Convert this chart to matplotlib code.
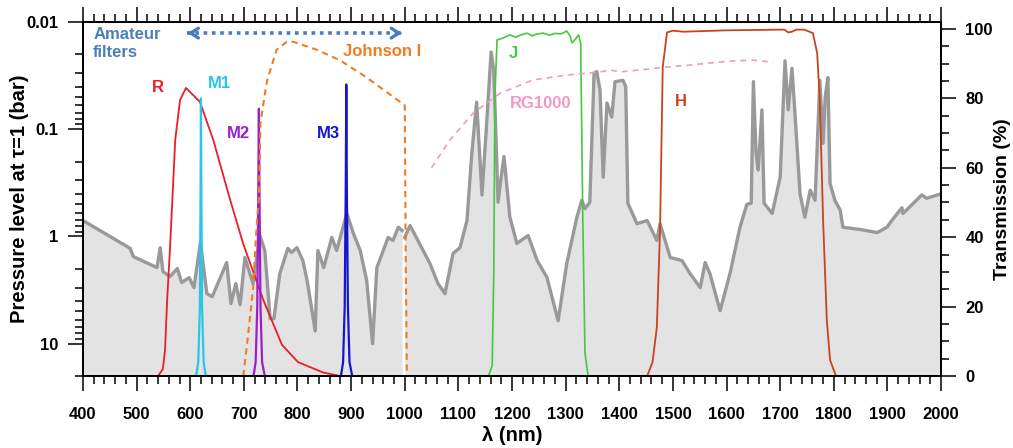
import numpy as np
import matplotlib
matplotlib.use("Agg")
import matplotlib.pyplot as plt
from matplotlib.ticker import FixedLocator, MultipleLocator, LogLocator, NullFormatter

plt.rcParams['font.family'] = ['Liberation Sans', 'DejaVu Sans']
plt.rcParams['font.weight'] = 'bold'
plt.rcParams['axes.labelweight'] = 'bold'

# pressure level (bar) where the atmosphere reaches tau = 1, two pieces with a gap near 1000 nm
lam_a = [400, 488, 494, 538, 544, 549, 562, 576, 584, 598, 607, 619, 631, 641, 668, 676,
         685, 693, 702, 717, 730, 739, 749, 756, 767, 782, 789, 799, 810, 818, 833, 838,
         849, 864, 873, 892, 904, 917, 929, 940, 948, 960, 969, 978, 988, 995]
p_a = [0.71, 1.29, 1.54, 1.95, 1.27, 2.12, 2.37, 1.99, 2.69, 2.42, 3.0, 1.13, 3.41, 3.64,
       1.75, 4.23, 2.75, 4.32, 1.57, 2.75, 0.98, 1.35, 5.84, 5.84, 2.22, 1.29, 1.41, 1.27,
       1.68, 2.58, 7.6, 1.35, 1.95, 1.02, 1.35, 0.61, 0.93, 1.35, 2.58, 10.0, 1.95, 1.35,
       1.02, 1.09, 0.82, 0.88]
lam_b = [1000, 1010, 1047, 1062, 1075, 1090, 1103, 1116, 1125, 1134, 1144, 1152, 1161, 1166,
         1174, 1179, 1185, 1196, 1209, 1230, 1247, 1265, 1286, 1302, 1321, 1330, 1336, 1345,
         1353, 1358, 1364, 1370, 1377, 1386, 1392, 1407, 1412, 1416, 1433, 1452, 1470,
         1476, 1495, 1517, 1532, 1551, 1560, 1569, 1588, 1607, 1625, 1638, 1646, 1650, 1655,
         1659, 1666, 1670, 1685, 1700, 1709, 1715, 1722, 1728, 1737, 1746, 1756, 1765, 1774,
         1780, 1784, 1789, 1793, 1802, 1812, 1817, 1849, 1881, 1899, 1911, 1927, 1929, 1964,
         1973, 2000]
p_b = [1.02, 0.79, 1.79, 2.75, 3.41, 1.44, 1.27, 0.71, 0.168, 0.056, 0.41, 0.1, 0.019, 0.028,
       0.48, 0.3, 0.18, 0.66, 1.16, 0.98, 1.68, 2.4, 6.1, 1.79, 0.66, 0.46, 0.55, 0.48,
       0.030, 0.029, 0.043, 0.28, 0.057, 0.077, 0.036, 0.035, 0.04, 0.49, 0.76, 0.71, 1.09,
       0.76, 1.57, 1.68, 2.22, 3.0, 1.75, 2.22, 4.92, 2.15, 0.82, 0.50, 0.49, 0.036, 0.168,
       0.24, 0.066, 0.49, 0.61, 0.28, 0.023, 0.066, 0.027, 0.077, 0.40, 0.66, 0.37, 0.46, 0.035,
       0.135, 0.050, 0.033, 0.32, 0.46, 0.57, 0.82, 0.86, 0.92, 0.82, 0.68, 0.54, 0.61, 0.41,
       0.44, 0.40]

# filter transmission curves (%)
r_lam = [540, 549, 553, 557, 562, 568, 572, 581, 592, 605, 618, 643, 674, 699, 736, 771, 801, 848, 880]
r_t = [0, 2, 7.5, 22, 36, 55, 68, 79.5, 83, 81, 79, 68, 51, 38, 22, 9, 4, 1, 0]
m1_lam = [611, 615, 618, 619.5, 620, 620.5, 622, 625, 629]
m1_t = [0, 4, 20, 60, 80, 60, 20, 4, 0]
m2_lam = [718, 722, 725, 727, 728, 729, 731, 734, 739]
m2_t = [0, 4, 20, 55, 77, 55, 20, 4, 0]
m3_lam = [881, 885, 888, 890, 891, 892, 894, 897, 902]
m3_t = [0, 4, 20, 55, 84, 55, 20, 4, 0]
ji_lam = [699, 708, 717, 721, 725, 728, 731, 743, 761, 780, 792, 836, 879, 929, 1000, 1002, 1004]
ji_t = [0, 12, 25, 36, 46, 51, 73, 85, 94, 96.3, 96.3, 94, 91, 86, 78, 30, 0]
j_lam = [1156, 1163, 1166, 1168, 1172, 1185, 1196, 1207, 1215, 1228, 1238, 1245, 1258, 1270,
         1280, 1292, 1302, 1308, 1312, 1318, 1324, 1328, 1332, 1336, 1342]
j_t = [0, 3, 30, 80, 96.8, 97.5, 98.3, 97.6, 98.2, 98.8, 98.0, 98.5, 98.8, 98.2, 98.7, 98.6,
       99.4, 98, 96, 97, 98.3, 96, 45, 6.6, 0]
h_lam = [1452, 1462, 1470, 1476, 1481, 1489, 1500, 1520, 1600, 1700, 1708, 1715, 1722, 1730,
         1745, 1761, 1769, 1774, 1780, 1787, 1793, 1804]
h_t = [0, 4, 14, 42, 89, 99, 99.5, 99.2, 99.6, 99.8, 99.8, 99, 99.2, 99.8, 99.8, 98.8, 93, 79,
       45, 16, 4.6, 0]
rg_lam = [1050, 1084, 1128, 1178, 1239, 1302, 1364, 1383, 1401, 1489, 1612, 1650, 1687]
rg_t = [60, 68, 75.8, 81.5, 85.3, 86.7, 87.6, 88.2, 87.6, 89, 90.8, 91, 90.4]

fig = plt.figure(figsize=(10.13, 4.48), dpi=100)
ax = fig.add_axes([0.0819, 0.1607, 0.8471, 0.7902])

p_bottom = 20
for lam, p in ((lam_a, p_a), (lam_b, p_b)):
    ax.fill_between(lam, p, p_bottom, color='#e3e3e3', lw=0, zorder=1)
    ax.plot(lam, p, color='#999999', lw=2.4, zorder=2, solid_joinstyle='round')

ax.set_yscale('log')
ax.set_ylim(p_bottom, 0.01)
ax.set_xlim(400, 2000)
ax.yaxis.set_major_locator(FixedLocator([0.01, 0.1, 1, 10]))
ax.set_yticklabels(['0.01', '0.1', '1', '10'])
ax.yaxis.set_minor_locator(LogLocator(base=10, subs=np.arange(2, 10)))
ax.yaxis.set_minor_formatter(NullFormatter())
ax.xaxis.set_major_locator(MultipleLocator(100))
ax.xaxis.set_minor_locator(MultipleLocator(20))

ax2 = ax.twinx()
ax2.set_ylim(0, 102)
ax2.yaxis.set_major_locator(MultipleLocator(20))
ax2.yaxis.set_minor_locator(MultipleLocator(5))

ax2.plot(r_lam, r_t, color='#ee1c24', lw=1.3)
ax2.plot(m1_lam, m1_t, color='#29c5ea', lw=1.6)
ax2.plot(m2_lam, m2_t, color='#9b1fc9', lw=1.6)
ax2.plot(m3_lam, m3_t, color='#1515d0', lw=1.6)
ax2.plot(ji_lam, ji_t, color='#f07c22', lw=1.5, dashes=(3, 2.2))
ax2.plot(j_lam, j_t, color='#47c83c', lw=1.2)
ax2.plot(h_lam, h_t, color='#c9431b', lw=1.3)
ax2.plot(rg_lam, rg_t, color='#f597c6', lw=1.2, dashes=(3.5, 3))

# amateur filter range arrow
blue = '#4a7ebb'
ax2.plot([594, 996], [98.8, 98.8], color=blue, lw=2.6, dashes=(1, 1.3))
ax2.annotate('', xy=(590, 98.8), xytext=(606, 98.8),
             arrowprops=dict(arrowstyle='->,head_length=0.55,head_width=0.35', lw=2.4, color=blue))
ax2.annotate('', xy=(1000, 98.8), xytext=(984, 98.8),
             arrowprops=dict(arrowstyle='->,head_length=0.55,head_width=0.35', lw=2.4, color=blue))

fs = 12
ax2.text(419, 95.8, 'Amateur\nfilters', color=blue, fontsize=fs, ha='left', va='center',
         linespacing=1.25)
ax2.text(540, 83, 'R', color='#ee1c24', fontsize=fs, ha='center', va='center')
ax2.text(654, 84.4, 'M1', color='#29c5ea', fontsize=fs, ha='center', va='center')
ax2.text(689, 70, 'M2', color='#9b1fc9', fontsize=fs, ha='center', va='center')
ax2.text(857, 70, 'M3', color='#1515d0', fontsize=fs, ha='center', va='center')
ax2.text(957, 93.4, 'Johnson I', color='#f07c22', fontsize=fs, ha='center', va='center')
ax2.text(1202, 93, 'J', color='#47c83c', fontsize=fs, ha='center', va='center')
ax2.text(1254, 78.4, 'RG1000', color='#f597c6', fontsize=fs, ha='center', va='center')
ax2.text(1515, 79, 'H', color='#c9431b', fontsize=fs, ha='center', va='center')

for a in (ax, ax2):
    for s in a.spines.values():
        s.set_linewidth(1.4)
    a.tick_params(which='major', direction='out', length=10.5, width=1.1, labelsize=12)
    a.tick_params(which='minor', direction='out', length=5.5, width=1.1)
ax.tick_params(axis='x', which='both', top=True, pad=12)
ax.tick_params(axis='y', which='both', pad=7)
ax2.tick_params(axis='y', which='both', pad=7)

ax.set_xlabel('λ (nm)', fontsize=14.5, labelpad=3)
ax.set_ylabel('Pressure level at τ=1 (bar)', fontsize=14.5, labelpad=-2)
ax2.set_ylabel('Transmission (%)', fontsize=14, labelpad=1)

fig.savefig('out.png', dpi=100)
